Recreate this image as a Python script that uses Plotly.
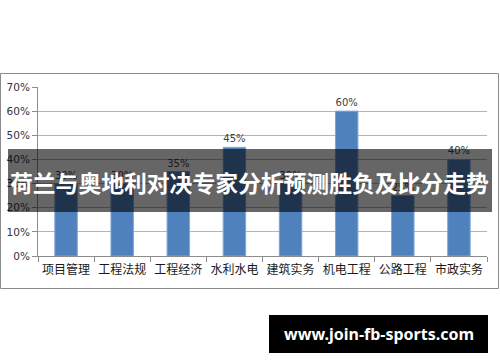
import plotly.graph_objects as go

categories = ["项目管理", "工程法规", "工程经济", "水利水电", "建筑实务", "机电工程", "公路工程", "市政实务"]
values = [0.30, 0.30, 0.35, 0.45, 0.30, 0.60, 0.25, 0.40]
value_labels = ["30%", "30%", "35%", "45%", "30%", "60%", "25%", "40%"]
title_text = "荷兰与奥地利对决专家分析预测胜负及比分走势"
watermark_text = "www.join-fb-sports.com"

W, H = 500, 362
L, R, T, B = 38, 487, 87, 256


def px(x):
    return (x - L) / (R - L)


def py(y):
    return (B - y) / (B - T)


fig = go.Figure()
fig.add_trace(go.Bar(
    x=categories, y=values,
    marker=dict(color="#4F81BD", line=dict(color="#7EA6D6", width=1)),
    width=0.4,
    text=value_labels, textposition="outside", cliponaxis=False,
    textfont=dict(family="DejaVu Sans, sans-serif", size=10, color="#404040"),
))

fig.update_layout(
    width=W, height=H,
    margin=dict(l=L, r=W - R, t=T, b=H - B, autoexpand=False),
    paper_bgcolor="white", plot_bgcolor="white",
    showlegend=False,
    bargap=0.6,
    xaxis=dict(
        type="category", showgrid=False, showline=True, linecolor="#8c8c8c", linewidth=1,
        ticks="outside", tickson="boundaries", ticklen=5, tickcolor="#8c8c8c",
        tickangle=0, automargin=False, ticklabelstandoff=3,
        tickfont=dict(family="Noto Sans CJK SC", size=12, color="#1a1a1a"),
    ),
    yaxis=dict(
        range=[0, 0.7], dtick=0.1, tickformat=".0%",
        showgrid=True, gridcolor="#b4b4b4", gridwidth=1,
        showline=True, linecolor="#8c8c8c", linewidth=1,
        ticks="outside", ticklen=5, tickcolor="#8c8c8c", ticklabelstandoff=0,
        automargin=False,
        tickfont=dict(family="DejaVu Sans, sans-serif", size=10.5, color="#333344"),
        zeroline=False,
    ),
    shapes=[
        dict(type="rect", xref="paper", yref="paper",
             x0=px(0.5), x1=px(498.5), y0=py(73.5), y1=py(288.5),
             line=dict(color="#8a8a8a", width=1), fillcolor="rgba(0,0,0,0)", layer="below"),
        dict(type="rect", xref="paper", yref="paper",
             x0=px(8), x1=px(492), y0=py(149), y1=py(212),
             line=dict(width=0), fillcolor="rgba(0,0,0,0.6)", layer="above"),
        dict(type="rect", xref="paper", yref="paper",
             x0=px(269), x1=px(488), y0=py(315), y1=py(353),
             line=dict(width=0), fillcolor="#000000", layer="above"),
    ],
    annotations=[
        dict(text="<b>" + title_text + "</b>", xref="paper", yref="paper",
             x=px(249), y=py(182), xanchor="center", yanchor="middle", showarrow=False,
             font=dict(family="Noto Sans CJK SC", size=22.8, color="white")),
        dict(text="<b>" + watermark_text + "</b>", xref="paper", yref="paper",
             x=px(378.5), y=py(334), xanchor="center", yanchor="middle", showarrow=False,
             font=dict(family="Noto Sans", size=16, color="white")),
    ],
)

fig.write_html("out.html")
